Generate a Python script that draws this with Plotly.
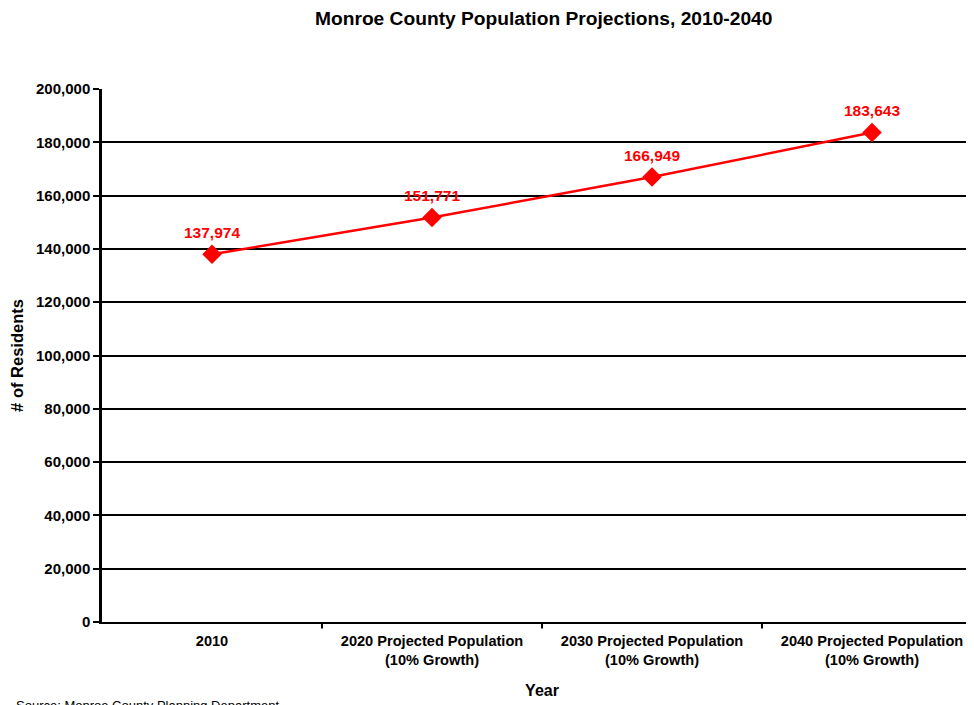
"""
Monroe County population projections line chart
"""
import plotly.graph_objects as go

categories = [
    "2010",
    "2020 Projected Population<br>(10% Growth)",
    "2030 Projected Population<br>(10% Growth)",
    "2040 Projected Population<br>(10% Growth)",
]
residents = [137974, 151771, 166949, 183643]
y_ticks = list(range(0, 200001, 20000))

FONT = "Liberation Sans, Arial, sans-serif"
x_pos = list(range(len(categories)))

fig = go.Figure(go.Scatter(
    x=x_pos,
    y=residents,
    mode="lines+markers",
    line=dict(color="#ff0000", width=2.5),
    marker=dict(symbol="diamond", size=15, color="#ff0000"),
    cliponaxis=False,
    hoverinfo="skip",
))

# value labels above each point
for xi, v in zip(x_pos, residents):
    fig.add_annotation(
        x=xi, y=v, text=f"<b>{v:,}</b>", showarrow=False,
        yanchor="middle", yshift=22,
        font=dict(family=FONT, size=15.5, color="#ff0000"),
    )

fig.update_layout(
    width=974,
    height=705,
    margin=dict(l=94, r=0, t=81, b=91, autoexpand=False),
    paper_bgcolor="white",
    plot_bgcolor="white",
    showlegend=False,
    font=dict(family=FONT, color="black"),
    title=dict(
        text="<b>Monroe County Population Projections, 2010-2040</b>",
        x=0.55, xanchor="center", y=0.986, yanchor="middle",
        font=dict(size=19.2, family=FONT, color="black"),
    ),
    xaxis=dict(
        range=[-0.5, 3.5],
        tickmode="array",
        tickvals=x_pos,
        ticktext=[f"<b>{c}</b>" for c in categories],
        tickfont=dict(size=14.6, family=FONT),
        showgrid=False,
        zeroline=False,
        showline=True, linecolor="black", linewidth=2,
        ticks="", ticklabelstandoff=4,
        automargin=False,
        title=dict(text="<b>Year</b>", font=dict(size=16, family=FONT), standoff=18),
        fixedrange=True,
    ),
    yaxis=dict(
        range=[0, 200000],
        tickvals=y_ticks,
        ticktext=[f"<b>{v:,}</b>" for v in y_ticks],
        tickfont=dict(size=15, family=FONT),
        showgrid=True, gridcolor="black", gridwidth=2,
        zeroline=False,
        showline=True, linecolor="black", linewidth=2.5,
        ticks="outside", ticklen=6, tickwidth=2, tickcolor="black",
        automargin=False,
        title=dict(text="<b># of Residents</b>", font=dict(size=16.5, family=FONT), standoff=12),
        fixedrange=True,
    ),
)

# category separators on the x axis
for b in [0.5, 1.5, 2.5]:
    fig.add_shape(type="line", xref="x", yref="paper", x0=b, x1=b, y0=0, y1=-0.012,
                  line=dict(color="black", width=2))

fig.add_annotation(
    text="Source: Monroe County Planning Department",
    xref="paper", yref="paper", x=-0.1, y=-0.139,
    xanchor="left", yanchor="top", showarrow=False,
    font=dict(size=13, family=FONT, color="black"),
)

fig.write_html("out.html")
